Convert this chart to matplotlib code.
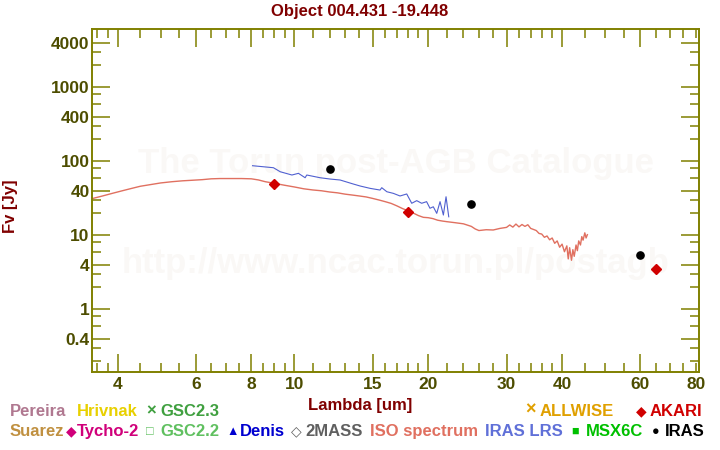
import matplotlib
matplotlib.use("Agg")
import matplotlib.pyplot as plt
from matplotlib.ticker import FixedLocator, FixedFormatter, NullFormatter

plt.rcParams['font.family'] = ['Liberation Sans', 'DejaVu Sans']
plt.rcParams['font.weight'] = 'bold'

# ---------------- data ----------------
iso_wave = [3.52, 3.7, 3.9, 4.1, 4.3, 4.5, 4.8, 5.0, 5.3, 5.6, 5.9, 6.2, 6.5, 6.8,
            7.2, 7.6, 8.0, 8.3, 8.6, 9.0, 9.5, 10.0, 10.5, 11.0, 11.5, 12.0, 12.5,
            13.0, 13.5, 14.0, 14.5, 15.0, 15.5, 16.0, 16.5, 17.0, 17.5, 18.0, 18.5,
            19.0, 19.5, 20.0, 20.5, 21.0, 21.5, 22.0, 23.0, 24.0, 25.0, 25.5, 26.0,
            27.0, 28.0, 29.0, 30.0, 30.5, 31.0, 31.5, 32.0, 32.5, 33.0, 33.5, 34.0,
            34.5, 35.0, 35.5, 36.0, 36.5, 37.0, 37.5, 38.0, 38.5, 39.0, 39.5, 40.0,
            40.5, 41.0, 41.3, 41.6, 42.0, 42.3, 42.6, 43.0, 43.3, 43.6, 44.0, 44.3,
            44.6, 45.0, 45.3, 45.6]
iso_flux = [31.5, 34, 37, 40, 43, 46, 49, 51, 53, 54.5, 55.5, 56.5, 58, 58.5,
            58.5, 58.5, 58, 56, 53, 50.5, 47.5, 45, 42.5, 41, 40, 38.5, 37.5,
            36, 35, 34, 33, 31.5, 30, 28.5, 27, 25, 23, 21.5, 20,
            18.5, 17.5, 17.3, 16.8, 16.0, 15.6, 15.3, 14.8, 14.3, 13.2, 12.2, 11.6,
            11.9, 11.8, 12.4, 12.8, 13.8, 12.9, 14.2, 13.0, 14.0, 13.2, 13.9, 12.4,
            12.0, 11.6, 10.6, 10.4, 9.4, 9.8, 8.7, 9.2, 7.8, 8.4, 6.9, 7.6,
            6.0, 7.2, 4.8, 6.8, 4.6, 6.4, 5.2, 7.4, 6.2, 8.4, 7.4, 9.6,
            8.6, 10.8, 9.2, 10.2]

lrs_wave = [8.05, 8.97, 9.29, 9.87, 10.21, 10.57, 10.66, 11.42, 12.03, 12.67, 13.57,
            14.05, 14.8, 15.58, 15.72, 16.14, 16.69, 17.28, 17.89, 18.36, 18.84,
            19.33, 19.83, 20.18, 20.53, 20.9, 21.26, 21.63, 21.93, 22.24]
lrs_flux = [87.2, 81.9, 72.3, 65.3, 68.8, 60, 65.3, 60, 57.6, 55.9, 49.3,
            46.4, 43.1, 40.9, 44, 38.8, 36.9, 34, 36.2, 27.1, 29.4,
            27.1, 28.5, 23.2, 24.3, 19.8, 28.5, 18.8, 33.2, 17.8]

iras_wave = [12, 25, 60]
iras_flux = [78.7, 26.5, 5.4]

akari_wave = [9, 18, 65]
akari_flux = [49.3, 20.6, 3.5]

x_major = [4, 6, 8, 10, 15, 20, 30, 40, 60, 80]
x_labels = ['4', '6', '8', '10', '15', '20', '30', '40', '60', '80']
x_minor = [3.6, 3.8, 4.5, 5, 5.5, 6.5, 7, 7.5, 8.5, 9, 9.5, 11, 12, 13, 14, 16, 17,
           18, 19, 22, 24, 26, 28, 32, 34, 36, 38, 45, 50, 55, 65, 70, 75]
y_major = [0.4, 1, 4, 10, 40, 100, 400, 1000, 4000]
y_labels = ['0.4', '1', '4', '10', '40', '100', '400', '1000', '4000']
y_minor = [0.2, 0.3, 0.6, 0.8, 2, 3, 6, 8, 20, 30, 60, 80, 200, 300, 600, 800,
           2000, 3000]

title = "Object 004.431 -19.448"

# ---------------- figure ----------------
W, H = 720, 450
fig = plt.figure(figsize=(7.2, 4.5), dpi=100)
ax = fig.add_axes([92.3 / W, 1 - 371.6 / H, (699 - 92.3) / W, (371.6 - 29.3) / H])
ax.set_xscale('log')
ax.set_yscale('log')
ax.set_xlim(3.51, 81.3)
ax.set_ylim(0.144, 6080)

olive = '#808000'
tickc = '#4d4d00'
for s in ax.spines.values():
    s.set_color(olive)
    s.set_linewidth(1.4)

# watermark
wm = '#faf8f6'
ax.text(0.5, 1 - (163 - 29.3) / (371.6 - 29.3), "The Torun post-AGB Catalogue",
        transform=ax.transAxes, ha='center', va='center', fontsize=25,
        color=wm, zorder=0)
ax.text(0.5, 1 - (263 - 29.3) / (371.6 - 29.3), "http://www.ncac.torun.pl/postagb",
        transform=ax.transAxes, ha='center', va='center', fontsize=25,
        color=wm, zorder=0)

ax.plot(iso_wave, iso_flux, color='#e07060', lw=1.0, zorder=2)
ax.plot(lrs_wave, lrs_flux, color='#5060d0', lw=0.8, zorder=3)
ax.plot(iras_wave, iras_flux, 'o', color='black', ms=5.2, mec='black', zorder=4)
ax.plot(akari_wave, akari_flux, 'D', color='#d00000', ms=5.2, mec='#d00000', zorder=4)

ax.xaxis.set_major_locator(FixedLocator(x_major))
ax.xaxis.set_major_formatter(FixedFormatter(x_labels))
ax.xaxis.set_minor_locator(FixedLocator(x_minor))
ax.xaxis.set_minor_formatter(NullFormatter())
ax.yaxis.set_major_locator(FixedLocator(y_major))
ax.yaxis.set_major_formatter(FixedFormatter(y_labels))
ax.yaxis.set_minor_locator(FixedLocator(y_minor))
ax.yaxis.set_minor_formatter(NullFormatter())

ax.tick_params(which='both', direction='in', top=True, right=True, color=olive,
               width=1.1, labelcolor=tickc, labelsize=12.5)
ax.tick_params(which='major', length=13)
ax.tick_params(which='minor', length=6.5)
ax.tick_params(axis='x', which='major', pad=4)
ax.tick_params(axis='y', which='major', pad=2)
# the 80 tick is drawn short
t80 = ax.xaxis.get_major_ticks()[-1]
t80.tick1line.set_markersize(6.5)
t80.tick2line.set_markersize(6.5)

darkred = '#800000'
fig.text(360 / W, 1 - 16 / H, title, ha='center', va='baseline', fontsize=12,
         color=darkred)
fig.text(360 / W, 1 - 410 / H, "Lambda [um]", ha='center', va='baseline',
         fontsize=12, color=darkred)
fig.text(10 / W, 1 - 206 / H, "Fv [Jy]", ha='center', va='center', rotation=90,
         fontsize=12, color=darkred)

# legend row texts
fs = 12
gs = 10
def lt(x, y, s, c, size=fs):
    fig.text(x / W, 1 - y / H, s, ha='left', va='baseline', fontsize=size, color=c)

r1, r2 = 416, 436
lt(10, r1, "Pereira", '#b07890')
lt(77, r1, "Hrivnak", '#e8d000')
lt(146, r1 - 1, "×", '#40a040', gs + 2)
lt(160.7, r1, "GSC2.3", '#40a040')
lt(524.8, r1 - 1, "×", '#e0a000', gs + 3)
lt(539.5, r1, "ALLWISE", '#e0a000')
lt(635.5, r1 - 1, "◆", '#d00000', gs)
lt(649.7, r1, "AKARI", '#d00000')

lt(10, r2, "Suarez", '#c09040')
lt(65.5, r2 - 1, "◆", '#d0007a', gs)
lt(77, r2, "Tycho-2", '#d0007a')
lt(146, r2 - 1, "□", '#60c060', gs - 1)
lt(160.7, r2, "GSC2.2", '#60c060')
lt(226, r2 - 1, "▲", '#0000d0', gs - 1)
lt(240, r2, "Denis", '#0000d0')
lt(291, r2 - 1, "◇", '#606060', gs)
lt(305, r2, "2MASS", '#606060')
lt(369.6, r2, "ISO spectrum", '#e07060')
lt(485.3, r2, "IRAS LRS", '#6070d8')
lt(571.6, r2 - 1, "■", '#00c000', gs - 1)
lt(585.4, r2, "MSX6C", '#00c000')
lt(652, r2 - 1, "●", 'black', gs - 1)
lt(664.8, r2, "IRAS", 'black')

fig.savefig("out.png", dpi=100)
